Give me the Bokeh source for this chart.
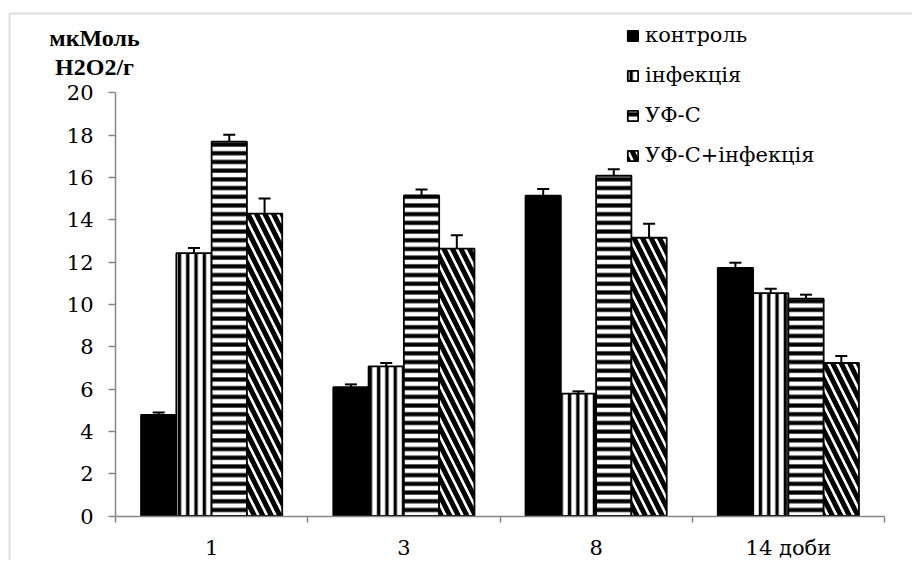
import numpy as np
from bokeh.plotting import figure
from bokeh.models import (ColumnDataSource, Range1d, FixedTicker, Legend, LegendItem,
                          Whisker, TeeHead, Label, BoxAnnotation)
from bokeh.embed import file_html
from bokeh.resources import INLINE

# ---- data ----
categories = ["1", "3", "8", "14 доби"]
series_names = ["контроль", "інфекція", "УФ-С", "УФ-С+інфекція"]
control = [4.78, 6.09, 15.14, 11.73]
control_err = [0.11, 0.13, 0.31, 0.24]
infection = [12.42, 7.07, 5.78, 10.53]
infection_err = [0.24, 0.16, 0.11, 0.21]
uvc = [17.69, 15.15, 16.08, 10.27]
uvc_err = [0.33, 0.28, 0.31, 0.19]
uvc_inf = [14.29, 12.64, 13.15, 7.23]
uvc_inf_err = [0.71, 0.63, 0.66, 0.33]
y_ticks = list(range(0, 21, 2))
y_label_lines = ["мкМоль", "H2O2/г"]

FONT = "'DejaVu Serif'"
FONT_BOLD = "'Liberation Serif'"
FS = "21px"
GRAY = "#868686"
W, H = 912, 560
# pixel geometry of the plotting area inside the figure
X0_PX, XU_PX = 115.0, 192.25      # x=0 position, px per category
Y0_PX, YU_PX = 515.5, 21.16       # y=0 position (from top), px per unit

x_range = Range1d(-X0_PX / XU_PX, (W - X0_PX) / XU_PX)
y_range = Range1d(-(H - Y0_PX) / YU_PX, Y0_PX / YU_PX)

p = figure(width=W, height=H, x_range=x_range, y_range=y_range,
           output_backend="svg", toolbar_location=None, min_border=0)
p.xgrid.visible = False
p.ygrid.visible = False
p.outline_line_color = None
p.background_fill_color = "white"
p.border_fill_color = "white"

# x axis: ticks at category boundaries, labels at centres
centers = [i + 0.5 for i in range(len(categories))]
xa = p.xaxis[0]
xa.fixed_location = 0
xa.bounds = (0, len(categories))
xa.ticker = FixedTicker(ticks=centers, minor_ticks=list(range(len(categories) + 1)))
xa.major_label_overrides = {c: lab for c, lab in zip(centers, categories)}
xa.major_tick_line_color = None
xa.major_tick_out = 6
xa.minor_tick_in = 0
xa.minor_tick_out = 6
xa.minor_tick_line_color = GRAY
xa.minor_tick_line_width = 1.5
xa.axis_line_color = GRAY
xa.axis_line_width = 1.5
xa.major_label_text_font = FONT
xa.major_label_text_font_size = FS
xa.major_label_text_color = "black"
xa.major_label_standoff = 14

ya = p.yaxis[0]
ya.fixed_location = 0
ya.bounds = (0, 20)
ya.ticker = FixedTicker(ticks=y_ticks)
ya.major_tick_in = 0
ya.major_tick_out = 7
ya.major_tick_line_color = GRAY
ya.major_tick_line_width = 1.5
ya.minor_tick_line_color = None
ya.axis_line_color = GRAY
ya.axis_line_width = 1.5
ya.major_label_text_font = FONT
ya.major_label_text_font_size = FS
ya.major_label_text_color = "black"
ya.major_label_standoff = 15

# ---- bars ----
bw = 0.1836
offsets = [-1.5 * bw, -0.5 * bw, 0.5 * bw, 1.5 * bw]
all_vals = [control, infection, uvc, uvc_inf]
all_errs = [control_err, infection_err, uvc_err, uvc_inf_err]
styles = [
    dict(fill_color="black", hatch_pattern=None),
    dict(fill_color="white", hatch_pattern="vertical_line", hatch_scale=8.3, hatch_weight=3.4),
    dict(fill_color="white", hatch_pattern="horizontal_line", hatch_scale=8.7, hatch_weight=4.2),
    dict(fill_color="white", hatch_pattern="left_diagonal_line", hatch_scale=17, hatch_weight=5),
]
renderers = []
for vals, errs, off, st in zip(all_vals, all_errs, offsets, styles):
    x = np.array(centers) + off
    v = np.array(vals)
    e = np.array(errs)
    src = ColumnDataSource(dict(x=x, top=v, upper=v + e, lower=v - e))
    kw = dict(x="x", top="top", bottom=0, width=bw, source=src,
              line_color="black", line_width=1.8, fill_color=st["fill_color"])
    if st["hatch_pattern"]:
        kw.update(hatch_pattern=st["hatch_pattern"], hatch_color="black",
                  hatch_scale=st["hatch_scale"], hatch_weight=st["hatch_weight"])
    r = p.vbar(**kw)
    renderers.append(r)
    w = Whisker(source=src, base="x", upper="upper", lower="lower",
                line_color="black", line_width=2,
                upper_head=TeeHead(size=12, line_color="black", line_width=2),
                lower_head=TeeHead(size=12, line_color="black", line_width=2))
    p.add_layout(w)

# ---- legend ----
legend = Legend(items=[LegendItem(label=n, renderers=[r]) for n, r in zip(series_names, renderers)],
                location=(626, 392), orientation="vertical",
                border_line_color=None, background_fill_alpha=0,
                padding=0, margin=0, glyph_width=13, glyph_height=13,
                label_height=26, spacing=14, label_standoff=6,
                label_text_font=FONT, label_text_font_size=FS,
                label_text_color="black")
p.add_layout(legend)

# ---- y unit label ----
for txt, yy in zip(y_label_lines, [22.57, 21.24]):
    p.add_layout(Label(x=(94 - X0_PX) / XU_PX, y=yy, text=txt, text_align="center",
                       text_baseline="middle", text_font=FONT_BOLD, text_font_size="24px",
                       text_font_style="bold", text_color="black"))

# ---- chart-area border (top & left visible) ----
p.add_layout(BoxAnnotation(left=(9 - X0_PX) / XU_PX, right=20,
                           top=(Y0_PX - 13) / YU_PX, bottom=-20,
                           fill_alpha=0, line_color="#8a8a8a", line_width=1.8))

open("out.html", "w").write(file_html(p, INLINE))
